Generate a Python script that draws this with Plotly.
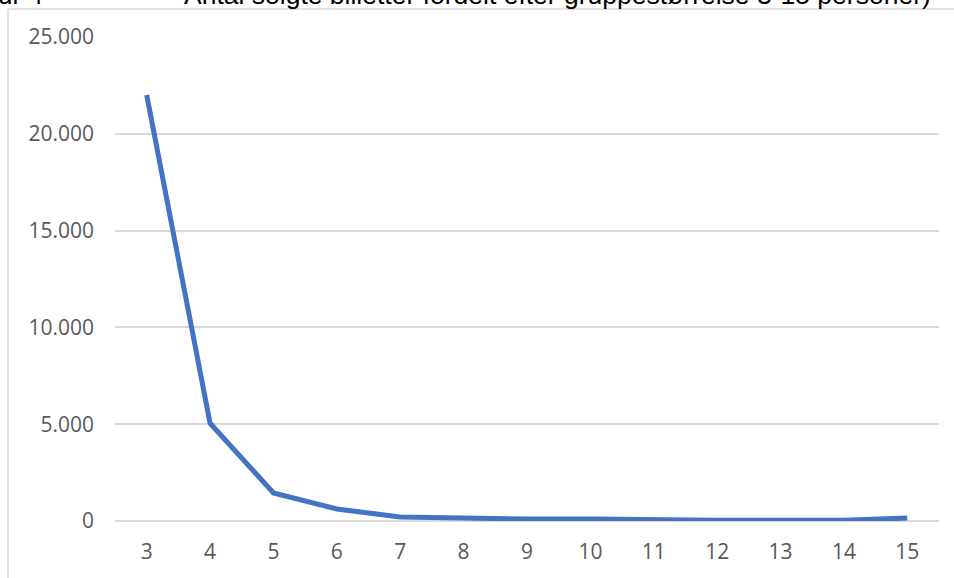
import plotly.graph_objects as go

group_sizes = ["3", "4", "5", "6", "7", "8", "9", "10", "11", "12", "13", "14", "15"]
tickets_sold = [22000, 5050, 1450, 620, 210, 150, 100, 100, 50, 40, 40, 40, 150]
y_tick_vals = [0, 5000, 10000, 15000, 20000, 25000]
y_tick_text = ["0", "5.000", "10.000", "15.000", "20.000", "25.000"]
title_left = "Figur 4"
title_right = "Antal solgte billetter fordelt efter gruppestørrelse 3-15 personer)"

W, H = 954, 578
L, R, T, B = 115, 15, 37, 57
pw, ph = W - L - R, H - T - B

def px_x(x):
    return (x - L) / pw

def px_y(y):
    return (H - B - y) / ph

fig = go.Figure()
fig.add_trace(go.Scatter(
    x=group_sizes, y=tickets_sold, mode="lines",
    line=dict(color="#4472C4", width=5, shape="linear"),
    hoverinfo="x+y", showlegend=False,
))

grid = "#D9D9D9"
tick_font = dict(family="Open Sans", size=21, color="#595959")
fig.update_layout(
    width=W, height=H,
    margin=dict(l=L, r=R, t=T, b=B),
    paper_bgcolor="white", plot_bgcolor="white",
    font=dict(family="Open Sans", color="#595959", size=21),
    xaxis=dict(type="category", range=[-0.5, 12.5], showgrid=False,
               zeroline=False, showline=False, ticks="",
               ticklabelstandoff=16, tickfont=tick_font),
    yaxis=dict(range=[0, 25000], tickvals=y_tick_vals, ticktext=y_tick_text,
               showgrid=True, gridcolor=grid, gridwidth=1.5,
               zeroline=True, zerolinecolor=grid, zerolinewidth=1.5,
               showline=False, ticks="", ticklabelstandoff=20,
               tickfont=tick_font),
    shapes=[
        dict(type="line", xref="paper", yref="paper",
             x0=px_x(8), x1=px_x(960), y0=px_y(9), y1=px_y(9),
             line=dict(color=grid, width=1.5)),
        dict(type="line", xref="paper", yref="paper",
             x0=px_x(8), x1=px_x(8), y0=px_y(9), y1=px_y(590),
             line=dict(color=grid, width=1.5)),
    ],
    annotations=[
        dict(text=title_left, xref="paper", yref="paper",
             x=px_x(45), y=px_y(12), xanchor="right", yanchor="bottom",
             showarrow=False, font=dict(family="Liberation Sans", size=26, color="black")),
        dict(text=title_right, xref="paper", yref="paper",
             x=px_x(182), y=px_y(12), xanchor="left", yanchor="bottom",
             showarrow=False, font=dict(family="Liberation Sans", size=26.5, color="black")),
    ],
)

fig.write_html("out.html", config={"displayModeBar": False},
               post_script="document.body.style.margin='0';")
